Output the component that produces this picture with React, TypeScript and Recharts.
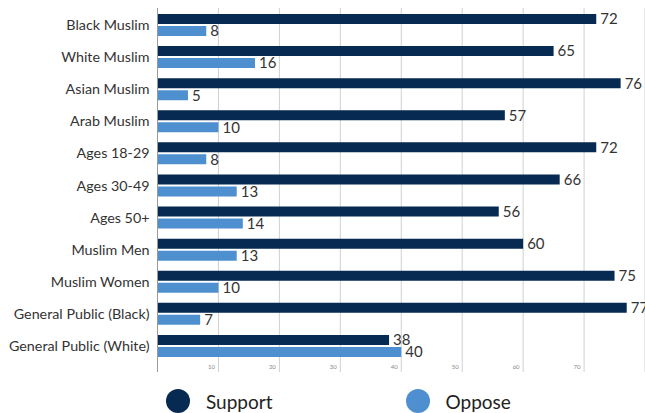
import {
  BarChart,
  Bar,
  XAxis,
  YAxis,
  CartesianGrid,
  LabelList,
} from "recharts";

const categories = [
  "Black Muslim",
  "White Muslim",
  "Asian Muslim",
  "Arab Muslim",
  "Ages 18-29",
  "Ages 30-49",
  "Ages 50+",
  "Muslim Men",
  "Muslim Women",
  "General Public (Black)",
  "General Public (White)",
];
const support = [72, 65, 76, 57, 72, 66, 56, 60, 75, 77, 38];
const oppose = [8, 16, 5, 10, 8, 13, 14, 13, 10, 7, 40];
const xTicks = [10, 20, 30, 40, 50, 60, 70];
const seriesNames = ["Support", "Oppose"];

const COLORS = ["#062a52", "#4e90cf"];
const FONT = "Lato, 'Open Sans', sans-serif";

const data = categories.map((name, i) => ({
  name,
  support: support[i],
  oppose: oppose[i],
}));

// tiny tick labels sit just inside the plot, left of each gridline
function XTick(props: any) {
  const { x, payload, plotBottom } = props;
  return (
    <text x={x - 7} y={plotBottom - 3} fontSize={6} fill="#888" textAnchor="middle" fontFamily={FONT}>
      {payload.value}
    </text>
  );
}

export default function App() {
  return (
    <div style={{ position: "absolute", left: 0, top: 0, width: 645, height: 413, background: "#fff" }}>
      <BarChart
        width={645}
        height={413}
        data={data}
        layout="vertical"
        margin={{ top: 8, right: 0, bottom: 21, left: 0 }}
        barSize={10}
        barGap={2}
      >
        <CartesianGrid horizontal={false} stroke="#d0d0d0" />
        <XAxis
          type="number"
          domain={[0, 80]}
          ticks={xTicks}
          height={20}
          axisLine={false}
          tickLine={false}
          tick={<XTick plotBottom={372} />}
        />
        <YAxis
          type="category"
          dataKey="name"
          width={157.5}
          padding={{ top: 1, bottom: 10 }}
          axisLine={{ stroke: "#9a9a9a" }}
          tickLine={false}
          tickSize={0}
          tickMargin={8}
          interval={0}
          tick={{ fontSize: 14.3, fill: "#333", fontFamily: FONT }}
        />
        <Bar dataKey="support" fill={COLORS[0]} isAnimationActive={false}>
          <LabelList dataKey="support" position="right" offset={4} fill="#333" fontSize={15} fontFamily={FONT} />
        </Bar>
        <Bar dataKey="oppose" fill={COLORS[1]} isAnimationActive={false}>
          <LabelList dataKey="oppose" position="right" offset={4} fill="#333" fontSize={15} fontFamily={FONT} />
        </Bar>
      </BarChart>
      {seriesNames.map((s, i) => (
        <div
          key={s}
          style={{
            position: "absolute",
            left: 166 + i * 239.5,
            top: 389,
            display: "flex",
            alignItems: "center",
            fontFamily: FONT,
            fontSize: 19,
            color: "#222",
          }}
        >
          <span
            style={{
              display: "inline-block",
              width: 24,
              height: 24,
              borderRadius: 12,
              background: COLORS[i],
              marginRight: 16,
            }}
          />
          {s}
        </div>
      ))}
    </div>
  );
}
